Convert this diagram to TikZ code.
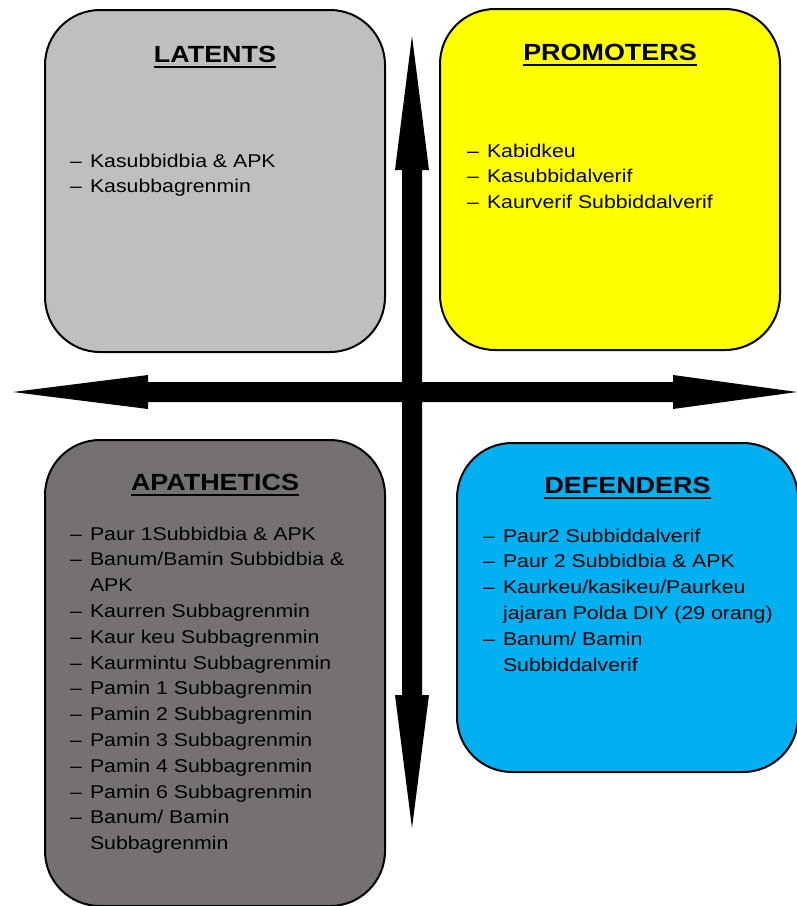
\documentclass[tikz,border=0pt]{standalone}
\usepackage{fontspec}
\setmainfont{Liberation Sans}[FakeStretch=1.15]
\definecolor{latcol}{HTML}{BFBFBF}
\definecolor{promcol}{HTML}{FFFF00}
\definecolor{apacol}{HTML}{767171}
\definecolor{defcol}{HTML}{00B0F0}
\begin{document}
\begin{tikzpicture}[x=1pt,y=-1pt,
  box/.style={draw=black, line width=2pt, rounded corners=55pt, inner sep=0pt},
  ttl/.style={inner sep=0pt, anchor=base, font=\fontsize{23.4}{28}\selectfont\bfseries},
  lst/.style={inner sep=0pt, anchor=base west, font=\fontsize{18.5}{25.8}\selectfont},
  uline/.style={line width=2.2pt},
  bigarrow/.style={fill=black, draw=none}]
\useasboundingbox (0,0) rectangle (797,906);
\clip (0,0) rectangle (797,906);

% boxes
\node[box, fill=latcol,  minimum width=340pt, minimum height=342pt] (lat)  at (215,181) {};
\node[box, fill=promcol, minimum width=340pt, minimum height=341pt] (prom) at (610,179.5) {};
\node[box, fill=apacol,  minimum width=340pt, minimum height=466pt] (apa)  at (215,673) {};
\node[box, fill=defcol,  minimum width=341pt, minimum height=329pt] (def)  at (627.5,607.5) {};

% arrows
\coordinate (hl) at (13,392);
\coordinate (hr) at (797,392);
\coordinate (vt) at (412,36);
\coordinate (vb) at (412,828);
\fill[bigarrow] (hl) -- (148,375) -- (148,382) -- (673,382) -- (673,375) -- (hr)
  -- (673,409) -- (673,402) -- (148,402) -- (148,409) -- cycle;
\fill[bigarrow] (vt) -- (429,170) -- (422,170) -- (422,695) -- (429,695) -- (vb)
  -- (395,695) -- (402,695) -- (402,170) -- (395,170) -- cycle;

% titles
\node[ttl] (latT)  at (215,62)   {LATENTS};
\node[ttl] (promT) at (610,60)   {PROMOTERS};
\node[ttl] (apaT)  at (215,490)  {APATHETICS};
\node[ttl] (defT)  at (627.5,493) {DEFENDERS};
\foreach \t in {latT,promT,apaT,defT}
  \draw[uline] ([yshift=-5pt]\t.base west) -- ([yshift=-5pt]\t.base east);

% lists
\node[lst] (latL) at (70,167) {\begin{tabular}[t]{@{}l@{\hspace{8pt}}l@{}}
\textendash & Kasubbidbia \& APK\\
\textendash & Kasubbagrenmin
\end{tabular}};

\node[lst] (promL) at (467,157) {\begin{tabular}[t]{@{}l@{\hspace{8pt}}l@{}}
\textendash & Kabidkeu\\
\textendash & Kasubbidalverif\\
\textendash & Kaurverif Subbiddalverif
\end{tabular}};

\node[lst] (apaL) at (70,540) {\begin{tabular}[t]{@{}l@{\hspace{8pt}}l@{}}
\textendash & Paur 1Subbidbia \& APK\\
\textendash & Banum/Bamin Subbidbia \&\\
 & APK\\
\textendash & Kaurren Subbagrenmin\\
\textendash & Kaur keu Subbagrenmin\\
\textendash & Kaurmintu Subbagrenmin\\
\textendash & Pamin 1 Subbagrenmin\\
\textendash & Pamin 2 Subbagrenmin\\
\textendash & Pamin 3 Subbagrenmin\\
\textendash & Pamin 4 Subbagrenmin\\
\textendash & Pamin 6 Subbagrenmin\\
\textendash & Banum/ Bamin\\
 & Subbagrenmin
\end{tabular}};

\node[lst] (defL) at (483,542) {\begin{tabular}[t]{@{}l@{\hspace{8pt}}l@{}}
\textendash & Paur2 Subbiddalverif\\
\textendash & Paur 2 Subbidbia \& APK\\
\textendash & Kaurkeu/kasikeu/Paurkeu\\
 & jajaran Polda DIY (29 orang)\\
\textendash & Banum/ Bamin\\
 & Subbiddalverif
\end{tabular}};
\end{tikzpicture}
\end{document}
